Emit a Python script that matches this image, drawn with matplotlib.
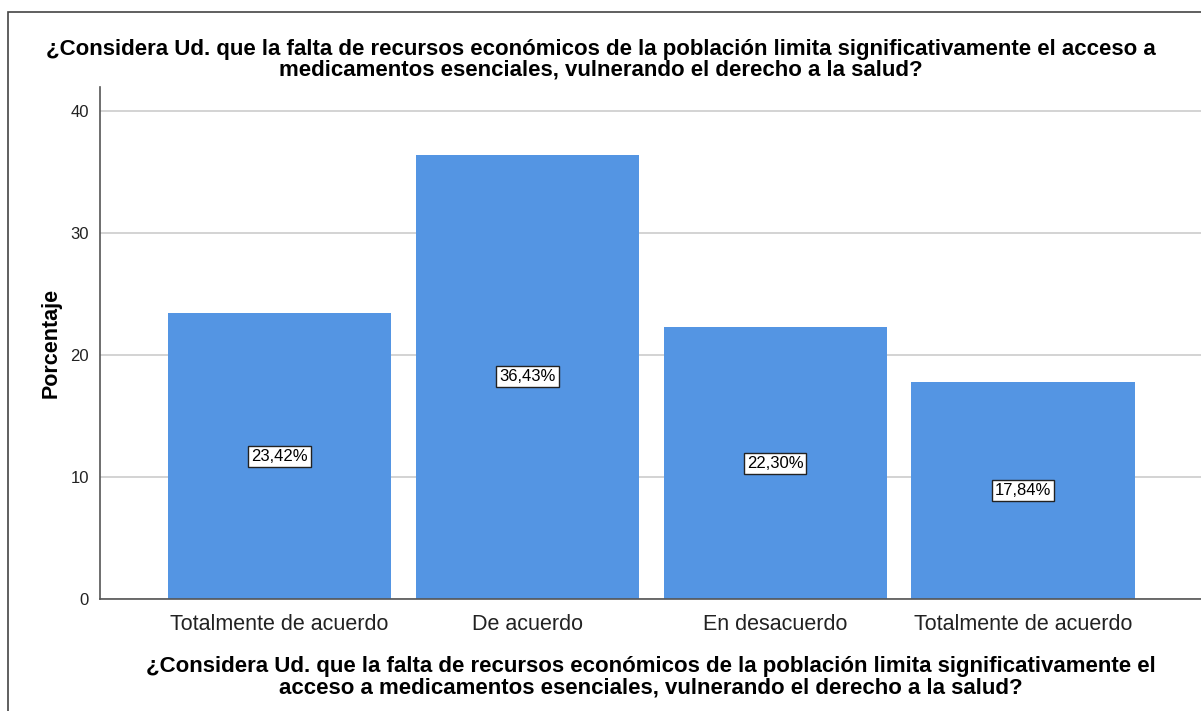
import matplotlib.pyplot as plt
from matplotlib.patches import Rectangle

plt.rcParams['font.family'] = ['Liberation Sans', 'DejaVu Sans']

categories = ['Totalmente de acuerdo', 'De acuerdo', 'En desacuerdo', 'Totalmente de acuerdo']
percentages = [23.42, 36.43, 22.30, 17.84]
bar_labels = ['23,42%', '36,43%', '22,30%', '17,84%']
yticks = [0, 10, 20, 30, 40]
question = ('¿Considera Ud. que la falta de recursos económicos de la población limita '
            'significativamente el acceso a\nmedicamentos esenciales, vulnerando el derecho a la salud?')
xlabel_text = ('¿Considera Ud. que la falta de recursos económicos de la población limita '
               'significativamente el\nacceso a medicamentos esenciales, vulnerando el derecho a la salud?')

fig = plt.figure(figsize=(12.01, 7.11), dpi=100)
ax = fig.add_axes([100 / 1201, 112 / 711, 1 - 100 / 1201, (599 - 87) / 711])

x = list(range(len(categories)))
ax.bar(x, percentages, width=0.9, color='#5495E3', zorder=2)
for xi, v, lab in zip(x, percentages, bar_labels):
    ax.text(xi, v / 2, lab, ha='center', va='center', fontsize=12, zorder=3,
            bbox=dict(boxstyle='square,pad=0.18', facecolor='white', edgecolor='#222222', linewidth=1))

ax.set_xlim(-0.724, 3.718)
ax.set_ylim(0, 42)
ax.set_yticks(yticks)
ax.set_xticks(x)
ax.set_xticklabels(categories, fontsize=15.5, color='#222222')
ax.tick_params(axis='y', length=0, pad=8, labelsize=12, labelcolor='#222222')
ax.tick_params(axis='x', length=0, pad=11)
ax.yaxis.grid(True, color='#d0d0d0', linewidth=1.3, zorder=0)
ax.set_axisbelow(True)
for s in ['top', 'right']:
    ax.spines[s].set_visible(False)
for s in ['left', 'bottom']:
    ax.spines[s].set_color('#555555')
    ax.spines[s].set_linewidth(1.2)

ax.set_ylabel('Porcentaje', fontsize=15.5, fontweight='bold', labelpad=6)
ax.set_xlabel(xlabel_text, fontsize=16, fontweight='bold', labelpad=15, linespacing=1.0)
fig.text(0.5, 1 - 60 / 711, question, ha='center', va='center', fontsize=16,
         fontweight='bold', linespacing=0.97)

fig.patches.append(Rectangle((8 / 1201, -0.1), 1.2, 1 - 12 / 711 + 0.1, transform=fig.transFigure,
                             fill=False, edgecolor='#444444', linewidth=1.2))

fig.savefig('out.png', dpi=100)
